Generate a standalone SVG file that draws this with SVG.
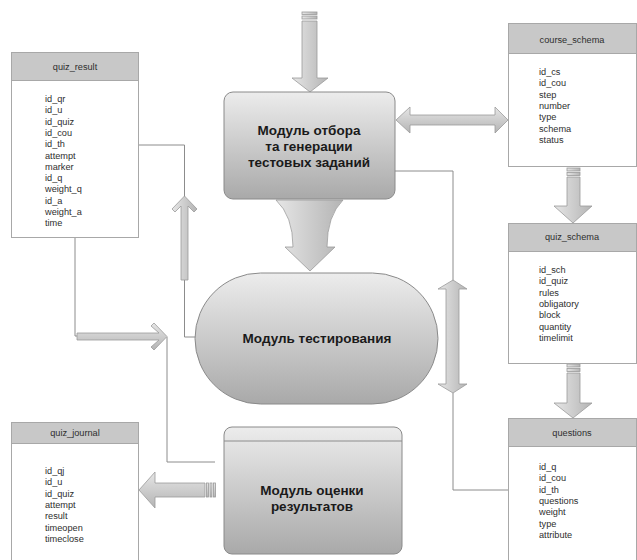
<svg xmlns="http://www.w3.org/2000/svg" width="637" height="560" viewBox="0 0 637 560">
  <defs>
    <linearGradient id="modFill" x1="0" y1="0" x2="0" y2="1">
      <stop offset="0" stop-color="#ececec"/>
      <stop offset="1" stop-color="#a9a9a9"/>
    </linearGradient>
    <linearGradient id="arrowV" x1="0" y1="0" x2="1" y2="0">
      <stop offset="0" stop-color="#e6e6e6"/>
      <stop offset="1" stop-color="#b4b4b4"/>
    </linearGradient>
    <linearGradient id="arrowH" x1="0" y1="0" x2="0" y2="1">
      <stop offset="0" stop-color="#e6e6e6"/>
      <stop offset="1" stop-color="#b4b4b4"/>
    </linearGradient>
    <style>
      .tbl { fill: #ffffff; stroke: #a8a8a8; stroke-width: 1; }
      .hdr { fill: #c8c8c8; stroke: #a8a8a8; stroke-width: 1; }
      .title { font-family: "Liberation Sans", Arial, sans-serif; font-size: 9.2px; fill: #2e2e2e; text-anchor: middle; }
      .fld { font-family: "Liberation Sans", Arial, sans-serif; font-size: 9.2px; fill: #2e2e2e; }
      .mod { fill: url(#modFill); stroke: #8a8a8a; stroke-width: 1; }
      .modtxt { font-family: "Liberation Sans", Arial, sans-serif; font-size: 13.5px; font-weight: bold; fill: #1a1a1a; text-anchor: middle; }
      .line { fill: none; stroke: #8c8c8c; stroke-width: 1; }
      .av { fill: url(#arrowV); stroke: #9a9a9a; stroke-width: 0.8; }
      .ah { fill: url(#arrowH); stroke: #9a9a9a; stroke-width: 0.8; }
    </style>
  </defs>

  <rect x="0" y="0" width="637" height="560" fill="#ffffff"/>

  <!-- thin connectors and block arrows -->
  <g id="connectors">
    <polyline class="line" points="139,145 184.5,145 184.5,197"/>
    <polyline class="line" points="184.5,280 184.5,337 196,337"/>
    <polyline class="line" points="75,238 75,336 78,336"/>
    <polyline class="line" points="167,337 167,462 215,462"/>
    <polyline class="line" points="395,171 453,171 453,281"/>
    <polyline class="line" points="453,393 453,490 508,490"/>

    <!-- input arrow into selection module -->
    <rect class="av" x="302" y="12" width="15" height="2.5"/>
    <rect class="av" x="302" y="16" width="15" height="3"/>
    <path class="av" d="M302,21 H317 V78 H328 L310,92 L292,78 H302 Z"/>

    <!-- selection module <-> course_schema -->
    <path class="ah" d="M396,120 L410,107 V115 H495 V107 L508,120 L495,133 V125 H410 V133 Z"/>

    <!-- course_schema -> quiz_schema -->
    <rect class="av" x="567" y="168" width="13" height="3"/>
    <rect class="av" x="567" y="172.5" width="13" height="3"/>
    <path class="av" d="M567,177 H580 V206 H592 L573,223 L554,206 H567 Z"/>

    <!-- quiz_schema -> questions -->
    <rect class="av" x="567" y="364" width="13" height="3"/>
    <rect class="av" x="567" y="368.5" width="13" height="3"/>
    <path class="av" d="M567,373 H580 V403 H592 L573,418 L554,403 H567 Z"/>

    <!-- selection module -> testing module (funnel arrow) -->
    <path class="av" d="M276,200 H343 Q327,216 327,247 H335 L310,271 L285,247 H293 Q293,216 276,200 Z"/>

    <!-- upward chevron arrow towards quiz_result -->
    <path class="av" d="M184.5,196 L197,209 L194,212 L188,206 V280 H181 V206 L175,212 L172,209 Z"/>

    <!-- rightward chevron arrow from quiz_result -->
    <path class="ah" d="M167,336.5 L154,323 L151,326 L159,333 H77 V340 H159 L151,347 L154,350 Z"/>

    <!-- testing module <-> questions (vertical double arrow) -->
    <path class="av" d="M453,280 L467,289 H459 V384 H467 L453,393 L438,384 H446 V289 H438 Z"/>

    <!-- evaluation module -> quiz_journal -->
    <path class="ah" d="M139,490 L155,472 V483 H205 V497 H155 V508 Z"/>
    <rect class="ah" x="206.5" y="483" width="2" height="14"/>
    <rect class="ah" x="210" y="483" width="2" height="14"/>
    <rect class="ah" x="213.5" y="483" width="2" height="14"/>
  </g>

  <!-- modules -->
  <g id="module-selection">
    <rect class="mod" x="224" y="92" width="171" height="107" rx="9"/>
    <text class="modtxt" x="309" y="135">Модуль отбора</text>
    <text class="modtxt" x="309" y="151">та генерации</text>
    <text class="modtxt" x="309" y="167">тестовых заданий</text>
  </g>

  <g id="module-testing">
    <rect class="mod" x="195" y="273" width="243" height="131" rx="65.5"/>
    <text class="modtxt" x="317" y="343">Модуль тестирования</text>
  </g>

  <g id="module-evaluation">
    <rect class="mod" x="224" y="427" width="178" height="127" rx="8"/>
    <line class="line" x1="224" y1="441" x2="402" y2="441"/>
    <text class="modtxt" x="312" y="495">Модуль оценки</text>
    <text class="modtxt" x="312" y="511">результатов</text>
  </g>

  <!-- tables -->
  <g id="quiz_result">
    <rect class="tbl" x="11.5" y="52.5" width="127" height="185"/>
    <rect class="hdr" x="11.5" y="52.5" width="127" height="28"/>
    <text class="title" x="75" y="70">quiz_result</text>
    <text class="fld" x="45" y="102">id_qr</text>
    <text class="fld" x="45" y="113.3">id_u</text>
    <text class="fld" x="45" y="124.6">id_quiz</text>
    <text class="fld" x="45" y="135.9">id_cou</text>
    <text class="fld" x="45" y="147.2">id_th</text>
    <text class="fld" x="45" y="158.5">attempt</text>
    <text class="fld" x="45" y="169.8">marker</text>
    <text class="fld" x="45" y="181.1">id_q</text>
    <text class="fld" x="45" y="192.4">weight_q</text>
    <text class="fld" x="45" y="203.7">id_a</text>
    <text class="fld" x="45" y="215">weight_a</text>
    <text class="fld" x="45" y="226.3">time</text>
  </g>

  <g id="quiz_journal">
    <rect class="tbl" x="11.5" y="422.5" width="127" height="145"/>
    <rect class="hdr" x="11.5" y="422.5" width="127" height="21"/>
    <text class="title" x="75" y="436">quiz_journal</text>
    <text class="fld" x="45" y="474">id_qj</text>
    <text class="fld" x="45" y="485.3">id_u</text>
    <text class="fld" x="45" y="496.6">id_quiz</text>
    <text class="fld" x="45" y="507.9">attempt</text>
    <text class="fld" x="45" y="519.2">result</text>
    <text class="fld" x="45" y="530.5">timeopen</text>
    <text class="fld" x="45" y="541.8">timeclose</text>
  </g>

  <g id="course_schema">
    <rect class="tbl" x="508.5" y="23.5" width="128" height="143"/>
    <rect class="hdr" x="508.5" y="23.5" width="128" height="30"/>
    <text class="title" x="572" y="43">course_schema</text>
    <text class="fld" x="539" y="75">id_cs</text>
    <text class="fld" x="539" y="86.3">id_cou</text>
    <text class="fld" x="539" y="97.6">step</text>
    <text class="fld" x="539" y="108.9">number</text>
    <text class="fld" x="539" y="120.2">type</text>
    <text class="fld" x="539" y="131.5">schema</text>
    <text class="fld" x="539" y="142.8">status</text>
  </g>

  <g id="quiz_schema">
    <rect class="tbl" x="508.5" y="223.5" width="128" height="140"/>
    <rect class="hdr" x="508.5" y="223.5" width="128" height="28"/>
    <text class="title" x="572" y="240">quiz_schema</text>
    <text class="fld" x="539" y="273">id_sch</text>
    <text class="fld" x="539" y="284.3">id_quiz</text>
    <text class="fld" x="539" y="295.6">rules</text>
    <text class="fld" x="539" y="306.9">obligatory</text>
    <text class="fld" x="539" y="318.2">block</text>
    <text class="fld" x="539" y="329.5">quantity</text>
    <text class="fld" x="539" y="340.8">timelimit</text>
  </g>

  <g id="questions">
    <rect class="tbl" x="508.5" y="418.5" width="128" height="150"/>
    <rect class="hdr" x="508.5" y="418.5" width="128" height="28"/>
    <text class="title" x="572" y="436">questions</text>
    <text class="fld" x="539" y="470">id_q</text>
    <text class="fld" x="539" y="481.3">id_cou</text>
    <text class="fld" x="539" y="492.6">id_th</text>
    <text class="fld" x="539" y="503.9">questions</text>
    <text class="fld" x="539" y="515.2">weight</text>
    <text class="fld" x="539" y="526.5">type</text>
    <text class="fld" x="539" y="537.8">attribute</text>
  </g>
</svg>
